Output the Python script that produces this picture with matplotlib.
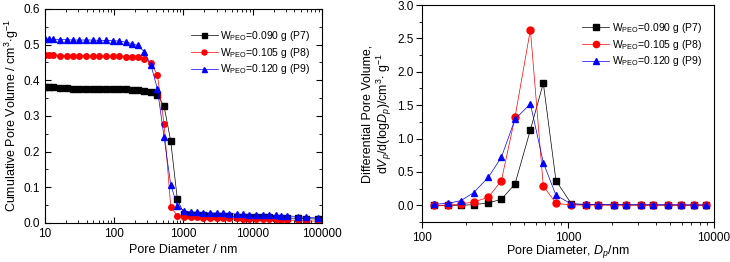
import matplotlib
matplotlib.use("Agg")
import matplotlib.pyplot as plt
from matplotlib.ticker import LogLocator, MultipleLocator, NullFormatter, FormatStrFormatter

plt.rcParams['font.family'] = ['Liberation Sans', 'DejaVu Sans']
plt.rcParams['mathtext.fontset'] = 'custom'
plt.rcParams['mathtext.rm'] = 'Liberation Sans'
plt.rcParams['mathtext.it'] = 'Liberation Sans:italic'
plt.rcParams['mathtext.bf'] = 'Liberation Sans:bold'

# --------------------------------------------------
# 	data: cumulative pore volume (left)
# --------------------------------------------------
cum_d = [10, 11.5, 13.2, 16.5, 20.6, 25.1, 31, 38.7, 48.9, 60.9, 76, 95, 118.5, 148, 179,
         219, 272, 340, 420, 525, 655, 816, 1020, 1274, 1556, 1940, 2420, 3090, 3700,
         4610, 5890, 7190, 8960, 11200, 14000, 17400, 21800, 25500, 31100, 44300, 59100, 88900]
cum_p7 = [0.382, 0.381, 0.380, 0.378, 0.378, 0.377, 0.377, 0.376, 0.376, 0.376, 0.376, 0.375,
          0.375, 0.375, 0.374, 0.373, 0.371, 0.368, 0.360, 0.327, 0.229, 0.066, 0.025, 0.023,
          0.022, 0.021, 0.020, 0.020, 0.019, 0.019, 0.018, 0.018, 0.017, 0.017, 0.016, 0.016,
          0.015, 0.015, 0.014, 0.013, 0.012, 0.011]
cum_p8 = [0.470, 0.470, 0.470, 0.469, 0.469, 0.469, 0.469, 0.469, 0.469, 0.469, 0.468, 0.468,
          0.467, 0.466, 0.466, 0.465, 0.460, 0.449, 0.415, 0.277, 0.045, 0.020, 0.017, 0.016,
          0.016, 0.015, 0.015, 0.014, 0.014, 0.013, 0.013, 0.012, 0.012, 0.011, 0.011, 0.010,
          0.010, 0.009, 0.009, 0.007, 0.006, 0.005]
cum_p9 = [0.516, 0.516, 0.515, 0.514, 0.514, 0.513, 0.513, 0.513, 0.513, 0.512, 0.512, 0.511,
          0.510, 0.507, 0.503, 0.498, 0.480, 0.442, 0.376, 0.240, 0.107, 0.048, 0.034, 0.031,
          0.030, 0.029, 0.028, 0.028, 0.027, 0.026, 0.025, 0.024, 0.023, 0.022, 0.022, 0.021,
          0.021, 0.020, 0.020, 0.018, 0.016, 0.014]

# --------------------------------------------------
# 	data: differential pore volume (right)
# --------------------------------------------------
dif_d = [120, 151, 185, 226, 285, 350, 434, 553, 678, 828, 1054, 1320, 1612, 2074, 2518,
         3186, 3850, 4850, 5980, 7300, 8870]
dif_p7 = [0.0, 0.0, 0.0, 0.01, 0.035, 0.09, 0.32, 1.13, 1.83, 0.37, 0.025, 0.01, 0.008,
          0.005, 0.005, 0.003, 0.003, 0.003, 0.002, 0.002, 0.002]
dif_p8 = [0.0, 0.0, 0.02, 0.05, 0.12, 0.37, 1.32, 2.63, 0.29, 0.03, 0.005, 0.004, 0.004,
          0.003, 0.003, 0.003, 0.003, 0.003, 0.003, 0.003, 0.003]
dif_p9 = [0.015, 0.03, 0.07, 0.19, 0.42, 0.72, 1.29, 1.52, 0.64, 0.15, 0.02, 0.015, 0.012,
          0.01, 0.01, 0.008, 0.008, 0.008, 0.007, 0.006, 0.006]

labels = [r"W$_{\mathregular{PEO}}$=0.090 g (P7)",
          r"W$_{\mathregular{PEO}}$=0.105 g (P8)",
          r"W$_{\mathregular{PEO}}$=0.120 g (P9)"]
styles = [("black", "s"), ("red", "o"), ("blue", "^")]

fig = plt.figure(figsize=(7.3, 2.62), dpi=100)
ax1 = fig.add_axes([0.0616, 0.1489, 0.3795, 0.8168])
ax2 = fig.add_axes([0.578, 0.1527, 0.40, 0.828])

for ys, lab, (c, m) in zip([cum_p7, cum_p8, cum_p9], labels, styles):
	ax1.plot(cum_d, ys, color=c, marker=m, ms=4, lw=0.5, mec=c, label=lab)
for ys, lab, (c, m) in zip([dif_p7, dif_p8, dif_p9], labels, styles):
	ax2.plot(dif_d, ys, color=c, marker=m, ms=5, lw=0.5, mec=c, label=lab)

legend_kw = dict(loc="upper right", frameon=False, fontsize=7.5, handlelength=2.6,
                 handletextpad=0.2, labelspacing=0.25, markerscale=0.9)

# left axes
ax1.set_xscale("log")
ax1.set_xlim(10, 100000)
ax1.set_ylim(0, 0.6)
ax1.yaxis.set_major_locator(MultipleLocator(0.1))
ax1.yaxis.set_minor_locator(MultipleLocator(0.05))
ax1.yaxis.set_major_formatter(FormatStrFormatter("%.1f"))
ax1.set_xticks([10, 100, 1000, 10000, 100000])
ax1.set_xticklabels(["10", "100", "1000", "10000", "100000"])
ax1.xaxis.set_minor_locator(LogLocator(base=10, subs=range(2, 10)))
ax1.xaxis.set_minor_formatter(NullFormatter())
ax1.tick_params(which="both", direction="in", top=True, right=True, labelsize=8.5)
ax1.tick_params(which="major", length=4)
ax1.tick_params(which="minor", length=2)
ax1.set_xlabel("Pore Diameter / nm", fontsize=9, labelpad=3)
ax1.set_ylabel(r"Cumulative Pore Volume / cm$^{\mathregular{3}}$$\cdot$g$^{\mathregular{-1}}$",
               fontsize=9, labelpad=2)
ax1.legend(bbox_to_anchor=(0.99, 0.95), **legend_kw)

# right axes
ax2.set_xscale("log")
ax2.set_xlim(100, 10000)
ax2.set_ylim(-0.25, 3.0)
ax2.yaxis.set_major_locator(MultipleLocator(0.5))
ax2.yaxis.set_minor_locator(MultipleLocator(0.25))
ax2.yaxis.set_major_formatter(FormatStrFormatter("%.1f"))
ax2.set_xticks([100, 1000, 10000])
ax2.set_xticklabels(["100", "1000", "10000"])
ax2.xaxis.set_minor_locator(LogLocator(base=10, subs=range(2, 10)))
ax2.xaxis.set_minor_formatter(NullFormatter())
ax2.tick_params(which="both", direction="out", labelsize=8.5)
ax2.tick_params(which="major", length=4)
ax2.tick_params(which="minor", length=2)
ax2.tick_params(axis="y", pad=2)
ax2.set_xlabel(r"Pore Diameter, $D_p$/nm", fontsize=9, labelpad=-1)
ax2.set_ylabel("Differential Pore Volume,\n" +
               r"d$V_p$/d(log$D_p$)/cm$^{\mathregular{3}}$$\cdot$ g$^{\mathregular{-1}}$",
               fontsize=9, labelpad=2, linespacing=1.1)
ax2.legend(bbox_to_anchor=(0.99, 0.97), **legend_kw)

plt.savefig("out.png", dpi=100)
